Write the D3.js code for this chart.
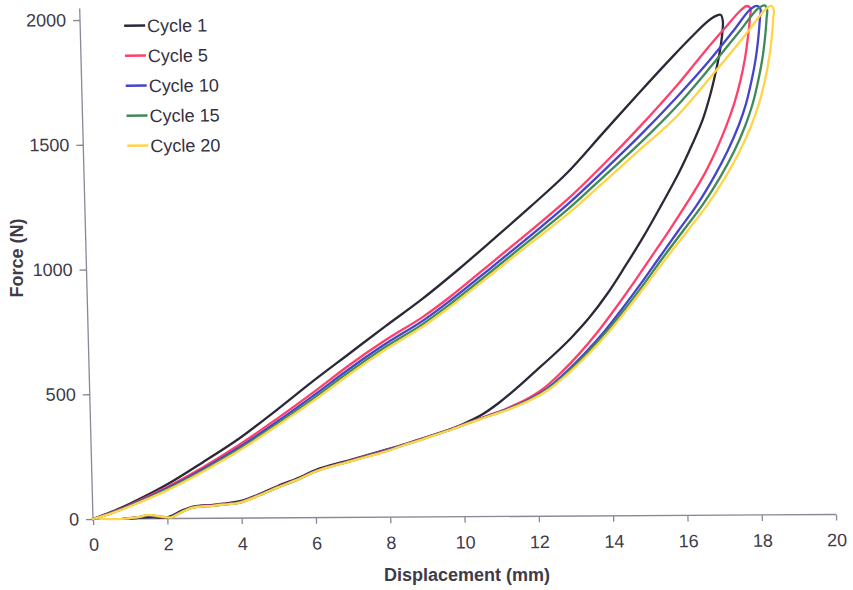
<!DOCTYPE html>
<html><head><meta charset="utf-8">
<script src="https://cdn.jsdelivr.net/npm/d3@7"></script>
<style>
body{margin:0;background:#fff}
svg{display:block}
text{font-family:"Liberation Sans",Arial,Helvetica,sans-serif}
</style>
</head><body>
<svg id="chart" width="853" height="590"></svg>
<script>
// ---------- data ----------
const xTicks = [0, 2, 4, 6, 8, 10, 12, 14, 16, 18, 20];
const yTicks = [0, 500, 1000, 1500, 2000];
const seriesNames = ["Cycle 1", "Cycle 5", "Cycle 10", "Cycle 15", "Cycle 20"];
const seriesColors = ["#2d2838", "#ff3f6c", "#4444cc", "#3f8a58", "#ffd448"];

// [displacement mm, force N] — loading branch then unloading branch
const cycle1 = [[0,0],[0.5,28],[1,60],[2,135],[3,225],[4,320],[5,430],[6,545],[7,655],[8,765],[9,872],[10,990],[11,1115],[12,1242],[13,1375],[14,1535],[15,1695],[15.93,1840],[16.5,1925],[16.9,1980],[17.12,2001],
  [17.25,2005],[17.3,1980],[17.28,1935],[17.2,1860],[17.08,1780],[16.92,1690],[16.7,1590],[16.4,1490],[16.0,1370],[15.5,1240],[15.0,1115],[14.5,1000],[14.0,890],[13.5,795],[13.0,715],[12.5,645],[12.0,580],[11.5,515],[11.0,455],[10.5,405],[10.0,370],[9.5,342],[9.0,318],[8.5,295],[7.96,272],[7.0,232],[6.04,192],[5.6,162],[5,128],[4.5,96],[3.97,68],[3.5,58],[3.24,54],[2.7,47],[2.4,32],[2.1,10],[1.9,3],[1.6,6],[1.3,4],[1.0,0]];
const cycle5 = [[0,0],[0.5,25],[1,55],[2,125],[3,205],[4,295],[5,395],[6,500],[7,610],[8,710],[9,800],[9.76,881],[11,1028],[12,1147],[13,1270],[14,1410],[15,1560],[16,1720],[16.8,1860],[17.4,1960],[17.77,2020],[17.96,2040],
  [18.05,2030],[18.03,1990],[17.97,1920],[17.87,1830],[17.73,1740],[17.55,1650],[17.32,1560],[17.02,1460],[16.65,1355],[16.2,1250],[15.7,1140],[15.2,1035],[14.7,930],[14.2,830],[13.7,735],[13.2,650],[12.7,575],[12.2,510],[11.7,465],[11.2,432],[10.7,405],[10.2,378],[9.67,350],[9.2,328],[8.8,308],[8.4,290],[7.96,270],[7.0,229],[6.04,188],[5.6,158],[5,124],[4.5,93],[3.97,64],[3.5,56],[3.24,52],[2.7,45],[2.4,28],[2.1,6],[1.8,6],[1.5,12],[1.2,6],[0.8,0]];
const cycle10 = [[0,0],[0.5,24],[1,53],[2,120],[3,198],[4,285],[5,383],[6,487],[7,595],[8,695],[9,785],[9.76,866],[11,1010],[12,1128],[13,1250],[14,1385],[15,1525],[16,1675],[16.9,1820],[17.6,1945],[18.04,2025],[18.22,2040],
  [18.32,2028],[18.3,1990],[18.25,1920],[18.16,1830],[18.03,1740],[17.87,1650],[17.65,1560],[17.34,1460],[16.95,1355],[16.48,1245],[15.95,1140],[15.43,1035],[14.91,930],[14.39,830],[13.87,735],[13.34,650],[12.82,575],[12.3,510],[11.78,465],[11.26,432],[10.74,405],[10.22,378],[9.69,350],[9.2,327],[8.8,307],[8.4,289],[7.96,269],[7.0,228],[6.04,187],[5.6,158],[5,123],[4.5,92],[3.97,63],[3.5,55],[3.24,51],[2.7,44],[2.4,27],[2.1,5],[1.8,7],[1.5,13],[1.2,5],[0.8,0]];
const cycle15 = [[0,0],[0.5,23],[1,51],[2,116],[3,193],[4,278],[5,374],[6,476],[7,583],[8,683],[9,772],[9.76,852],[11,995],[12,1112],[13,1230],[14,1362],[15,1495],[16,1640],[16.9,1790],[17.75,1940],[18.26,2030],[18.44,2042],
  [18.5,2025],[18.48,1990],[18.43,1920],[18.34,1830],[18.21,1740],[18.05,1650],[17.83,1560],[17.52,1460],[17.12,1355],[16.63,1245],[16.08,1140],[15.53,1035],[15.0,930],[14.47,830],[13.93,735],[13.4,650],[12.87,575],[12.34,510],[11.81,465],[11.29,432],[10.76,405],[10.23,378],[9.7,350],[9.2,326],[8.8,306],[8.4,288],[7.96,266],[7.0,227],[6.04,186],[5.6,157],[5,122],[4.5,92],[3.97,62],[3.5,55],[3.24,50],[2.7,44],[2.4,27],[2.1,5],[1.8,8],[1.5,14],[1.2,5],[0.8,0]];
const cycle20 = [[0,0],[0.5,22],[1,50],[2,112],[3,188],[4,272],[5,367],[6,467],[7,573],[8,673],[9,762],[9.76,842],[11,983],[12,1098],[13,1212],[14,1340],[15,1470],[16,1600],[17.1,1785],[17.94,1932],[18.44,2024],[18.61,2040],
  [18.68,2025],[18.66,1990],[18.61,1920],[18.52,1830],[18.39,1740],[18.22,1650],[17.99,1560],[17.67,1460],[17.26,1355],[16.76,1245],[16.2,1140],[15.63,1035],[15.08,930],[14.54,830],[14.0,735],[13.46,650],[12.92,575],[12.38,510],[11.85,465],[11.32,432],[10.78,405],[10.25,378],[9.72,350],[9.2,325],[8.8,305],[8.4,287],[7.96,265],[7.0,226],[6.04,186],[5.6,157],[5,122],[4.5,91],[3.97,62],[3.5,54],[3.24,50],[2.7,43],[2.4,26],[2.1,4],[1.8,9],[1.5,15],[1.2,6],[0.8,0],[0.2,0]];
const seriesData = [cycle1, cycle5, cycle10, cycle15, cycle20];

// ---------- layout ----------
const W = 743, H = 499;
const svg = d3.select("#chart");
// the scanned original is slightly sheared; reproduce with an affine matrix
const g = svg.append("g").attr("transform", "matrix(1,-0.00606,0.02605,1,80,20)");

const x = d3.scaleLinear().domain([0, 20]).range([0, W]);
const y = d3.scaleLinear().domain([0, 2000]).range([H, 0]);

const axisColor = "#8a8799";
const textColor = "#3f3b4a";
const fmt = d3.format("d");

// y axis
const yAxis = g.append("g").call(d3.axisLeft(y).tickValues(yTicks).tickFormat(fmt).tickSize(7).tickPadding(7));
yAxis.select(".domain").remove();
yAxis.append("line").attr("x1", 0).attr("x2", 0).attr("y1", y(0)).attr("y2", y(2046));
yAxis.selectAll("line").attr("stroke", axisColor).attr("stroke-width", 1.3);
yAxis.selectAll("text").attr("fill", textColor).style("font-size", "18px").style("font-family", "'Liberation Sans',Arial,sans-serif");

// x axis
const xAxis = g.append("g").attr("transform", `translate(0,${H})`)
  .call(d3.axisBottom(x).tickValues(xTicks).tickFormat(fmt).tickSize(6).tickPadding(13));
xAxis.select(".domain").remove();
xAxis.append("line").attr("x1", x(0)).attr("x2", x(20)).attr("y1", 0).attr("y2", 0);
xAxis.selectAll("line").attr("stroke", axisColor).attr("stroke-width", 1.3);
xAxis.selectAll("text").attr("fill", textColor).style("font-size", "18px").style("font-family", "'Liberation Sans',Arial,sans-serif");

// curves
const line = d3.line().x(d => x(d[0])).y(d => y(d[1])).curve(d3.curveCatmullRom.alpha(0.5));
seriesData.forEach((data, i) => {
  g.append("path").datum(data).attr("d", line)
    .attr("fill", "none").attr("stroke", seriesColors[i])
    .attr("stroke-width", 2.3).attr("stroke-linejoin", "round").attr("stroke-linecap", "round");
});

// legend
const legend = g.append("g").attr("transform", "translate(44,6)");
seriesNames.forEach((name, i) => {
  const row = legend.append("g").attr("transform", `translate(0,${i * 30})`);
  row.append("line").attr("x1", 0).attr("x2", 21).attr("y1", 0).attr("y2", 0)
    .attr("stroke", seriesColors[i]).attr("stroke-width", 2.5);
  row.append("text").attr("x", 23).attr("y", 0).attr("dy", "0.35em")
    .attr("fill", "#35303f").style("font-size", "18px").text(name);
});

// axis titles
svg.append("text").attr("x", 467).attr("y", 581).attr("text-anchor", "middle")
  .attr("fill", textColor).style("font-size", "18px").style("font-weight", "bold")
  .text("Displacement (mm)");
svg.append("text").attr("transform", "translate(23,258) rotate(-90)").attr("text-anchor", "middle")
  .attr("fill", textColor).style("font-size", "18px").style("font-weight", "bold")
  .text("Force (N)");
</script>
</body></html>
